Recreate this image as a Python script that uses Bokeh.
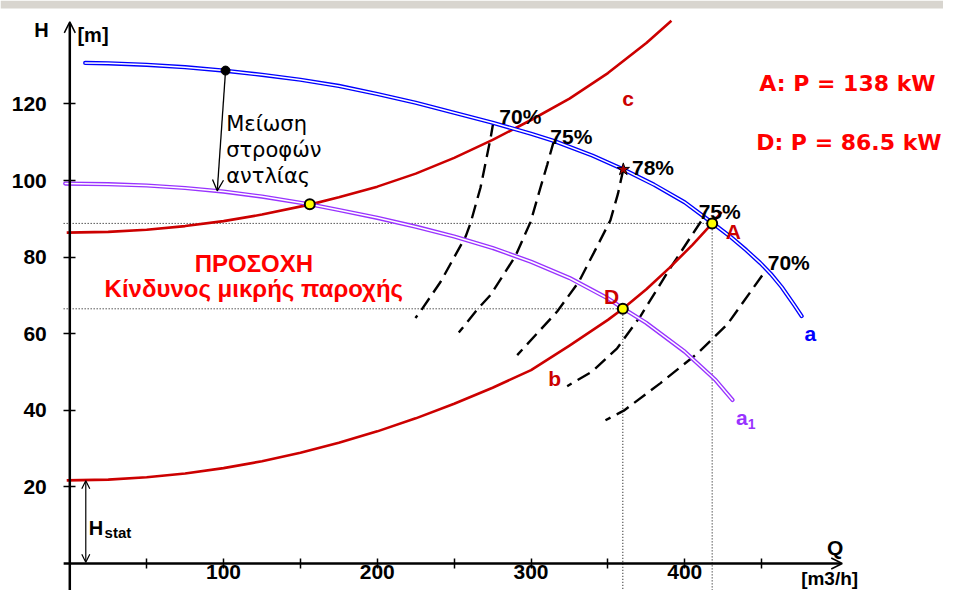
from bokeh.plotting import figure
from bokeh.models import Range1d, LinearAxis, FixedTicker, Arrow, OpenHead, BoxAnnotation
from bokeh.core.properties import value
from bokeh.embed import file_html
from bokeh.resources import INLINE

# ---------------- data (Q in m3/h, H in m) ----------------
# pump curve a (full speed)
blue_q = [10, 25, 50, 75, 100, 125, 150, 175, 200, 225, 250, 275, 300, 315, 340, 360,
          380, 400, 418, 430, 440, 449, 456, 463, 471, 476]
blue_h = [130.7, 130.6, 130.2, 129.6, 128.7, 127.6, 126.3, 124.7, 122.6, 120.3, 117.7,
          115.1, 112.2, 110.3, 106.5, 102.9, 98.9, 94.3, 88.9, 85.2, 81.8, 78.5, 75.6,
          72.2, 67.6, 64.6]
# pump curve a1 (reduced speed)
purple_q = [-3, 25, 50, 75, 100, 125, 156, 175, 200, 225, 250, 275, 300, 325, 350,
            359.5, 375, 400, 420, 431]
purple_h = [99.2, 99.05, 98.7, 98.05, 97.1, 95.8, 93.8, 92.3, 90.25, 87.95, 85.4, 82.4,
            78.8, 74.55, 69.2, 66.7, 62.8, 55.3, 47.9, 42.7]
# system curve b
b_q = [-2, 25, 50, 75, 100, 125, 150, 175, 200, 225, 250, 275, 300, 325, 350, 359.7,
       375, 390, 405, 417.8, 424]
b_h = [21.7, 21.9, 22.5, 23.5, 24.9, 26.7, 28.9, 31.5, 34.5, 37.9, 41.7, 45.9, 50.5,
       56.9, 63.6, 66.5, 71.6, 77.2, 83.2, 88.8, 91.8]
# throttled system curve c
c_q = [-2, 25, 50, 75, 100, 125, 156, 175, 200, 225, 250, 275, 300, 325, 350, 375, 391.3]
c_h = [86.4, 86.6, 87.15, 88.1, 89.4, 91.1, 93.7, 95.6, 98.4, 101.8, 105.9, 110.6,
       115.8, 121.4, 128.05, 135.9, 141.7]
# iso-efficiency curves
eff70l_q = [275.4, 273.6, 267.1, 260.6, 257.5, 241.1, 228.0, 224.8]
eff70l_h = [115.1, 110.9, 98.1, 88.8, 85.4, 73.5, 65.8, 64.1]
eff75l_q = [314.8, 310.5, 306.1, 299.7, 289.9, 273.6, 265.0, 253.0]
eff75l_h = [110.3, 104.1, 98.1, 89.2, 80.3, 70.1, 66.3, 60.3]
eff78_q = [360.0, 356.5, 351.6, 340.8, 331.0, 317.0, 291.0]
eff78_h = [102.9, 96.5, 89.6, 81.1, 73.5, 65.8, 54.4]
eff75r_q = [410.5, 390.0, 371.2, 356.0, 340.0, 323.5]
eff75r_h = [89.3, 76.8, 64.6, 56.2, 50.2, 46.3]
eff70r_q = [450.3, 427.6, 408.1, 384.2, 360.3, 348.4]
eff70r_h = [75.2, 62.4, 54.8, 47.1, 39.9, 37.4]

# operating points: intersection c/a1, D, A
op_q = [156.1, 359.7, 417.8]
op_h = [93.8, 66.5, 88.8]
# best efficiency point (78 %) and full-speed reference point
bep_q = [360.0]
bep_h = [102.9]
ref_q = [101.3]
ref_h = [128.7]
hstat = 21.6

# ticks
x_ticks = [100, 200, 300, 400]
x_minor = [50, 150, 250, 350, 450]
y_ticks = [20, 40, 60, 80, 100, 120]

eff_labels = ["70%", "75%", "78%", "75%", "70%"]
eff_lx = [293.0, 326.2, 379.3, 422.7, 467.6]
eff_ly = [116.8, 111.5, 103.4, 92.0, 78.6]

# ---------------- figure ----------------
p = figure(width=943, height=590,
           x_range=Range1d(-45.07, 568.26), y_range=Range1d(-7.05, 147.0),
           output_backend="svg", toolbar_location=None, min_border=0,
           x_axis_location=None, y_axis_location=None,
           outline_line_color=None, background_fill_color="white",
           border_fill_color="white")
p.grid.visible = False

# slide band at the top
p.add_layout(BoxAnnotation(bottom=144.9, fill_color="#d8d5cf", fill_alpha=1.0,
                           line_color=None, level="underlay"))

AX_FONT = "Liberation Sans"
xaxis = LinearAxis(fixed_location=0,
                   ticker=FixedTicker(ticks=x_ticks, minor_ticks=x_minor),
                   axis_line_color=None,
                   major_tick_in=5, major_tick_out=5, minor_tick_in=5, minor_tick_out=5,
                   major_tick_line_width=1.5, minor_tick_line_width=1.5,
                   major_tick_line_color="black", minor_tick_line_color="black",
                   major_label_text_font=AX_FONT, major_label_text_font_style="bold",
                   major_label_text_font_size="21px", major_label_text_color="black",
                   major_label_standoff=-3)
p.add_layout(xaxis, "below")
yaxis = LinearAxis(fixed_location=0,
                   ticker=FixedTicker(ticks=y_ticks),
                   axis_line_color=None,
                   major_tick_in=6, major_tick_out=6, minor_tick_line_color=None,
                   major_tick_line_width=1.5, major_tick_line_color="black",
                   major_label_text_font=AX_FONT, major_label_text_font_style="bold",
                   major_label_text_font_size="21px", major_label_text_color="black",
                   major_label_standoff=17)
p.add_layout(yaxis, "left")

# axis lines with arrow heads
p.add_layout(Arrow(end=OpenHead(size=11, line_width=1.5, line_color="black"),
                   x_start=0, y_start=-7.05, x_end=0, y_end=141.4,
                   line_width=2.5, line_color="black"))
p.add_layout(Arrow(end=OpenHead(size=11, line_width=1.5, line_color="black"),
                   x_start=-4, y_start=0, x_end=502.4, y_end=0,
                   line_width=2.5, line_color="black"))

# dotted guide lines from A and D
gq = op_q[1:]
gh = op_h[1:]
p.segment(x0=[-4] * len(gq), y0=gh, x1=gq, y1=gh,
          line_color="black", line_width=1, line_dash="1 2")
p.segment(x0=gq, y0=gh, x1=gq, y1=[-7.05] * len(gq),
          line_color="black", line_width=1, line_dash="1 2")

# iso-efficiency curves (dashed)
for qq, hh in [(eff70l_q, eff70l_h), (eff75l_q, eff75l_h), (eff78_q, eff78_h),
               (eff75r_q, eff75r_h), (eff70r_q, eff70r_h)]:
    p.line(qq, hh, line_color="black", line_width=2.4, line_dash="14 7")

# system curves
RED = "#cc0000"
p.line(b_q, b_h, line_color=RED, line_width=2.6, line_join="round")
p.line(c_q, c_h, line_color=RED, line_width=2.6, line_join="round")

# pump curves (double line look)
p.line(purple_q, purple_h, line_color="#9933ff", line_width=4.2, line_cap="round", line_join="round")
p.line(purple_q, purple_h, line_color="white", line_width=1.5, line_cap="round", line_join="round")
p.line(blue_q, blue_h, line_color="#0000ff", line_width=4.2, line_cap="round", line_join="round")
p.line(blue_q, blue_h, line_color="white", line_width=1.5, line_cap="round", line_join="round")

# arrows: speed reduction, Hstat
p.add_layout(Arrow(end=OpenHead(size=11, line_width=1.3, line_color="black"),
                   x_start=ref_q[0], y_start=ref_h[0], x_end=95.9, y_end=97.3,
                   line_width=1.3, line_color="black"))
p.add_layout(Arrow(start=OpenHead(size=8, line_width=1.2, line_color="black"),
                   end=OpenHead(size=8, line_width=1.2, line_color="black"),
                   x_start=10.4, y_start=hstat, x_end=10.4, y_end=0.3,
                   line_width=1.2, line_color="black"))

# points
p.scatter(ref_q, ref_h, size=9, fill_color="black", line_color="black")
p.scatter(bep_q, bep_h, marker="star", size=13, fill_color="#aa0000",
          line_color="black", line_width=1)
p.scatter(op_q, op_h, size=10, fill_color="yellow", line_color="black", line_width=2)

# ---------------- texts ----------------
def txt(x, y, t, size, color="black", font="Liberation Sans", style="bold", align="center"):
    p.text(x=x, y=y, text=t, text_font=value(font), text_font_style=style,
           text_font_size=size, text_color=color, text_align=align,
           text_baseline="alphabetic")

txt(eff_lx, eff_ly, eff_labels, "21px")
txt([-18.5], [139.3], ["H"], "20px")
txt([15.1], [138.0], ["[m]"], "20px")
txt([497.8], [4.25], ["Q"], "21px")
txt([494.2], [-3.9], ["[m3/h]"], "19px")
txt([17.0], [9.35], ["H"], "20px")
txt([22.6], [8.1], ["stat"], "15px", align="left")
txt([101.7, 101.7, 101.7], [114.7, 107.9, 101.1], ["Μείωση", "στροφών", "αντλίας"],
    "21px", font="DejaVu Sans", style="normal", align="left")
txt([119.7], [78.2], ["ΠΡΟΣΟΧΗ"], "24px", color="#ff0000")
txt([119.7], [71.8], ["Κίνδυνος μικρής παροχής"], "24px", color="#ff0000")
txt([563.1], [125.3], ["A: P = 138 kW"], "22px", color="#ff0000", font="DejaVu Sans", align="right")
txt([567.0], [110.0], ["D: P = 86.5 kW"], "22px", color="#ff0000", font="DejaVu Sans", align="right")
txt([431.6, 352.3, 315.4, 363.1], [86.8, 69.8, 48.4, 121.5], ["A", "D", "b", "c"], "21px", color=RED)
txt([481.7], [60.1], ["a"], "21px", color="#0000ff")
txt([437.1], [38.0], ["a"], "21px", color="#9933ff")
txt([443.4], [36.3], ["1"], "14px", color="#9933ff")

open("out.html", "w").write(file_html(p, INLINE))
